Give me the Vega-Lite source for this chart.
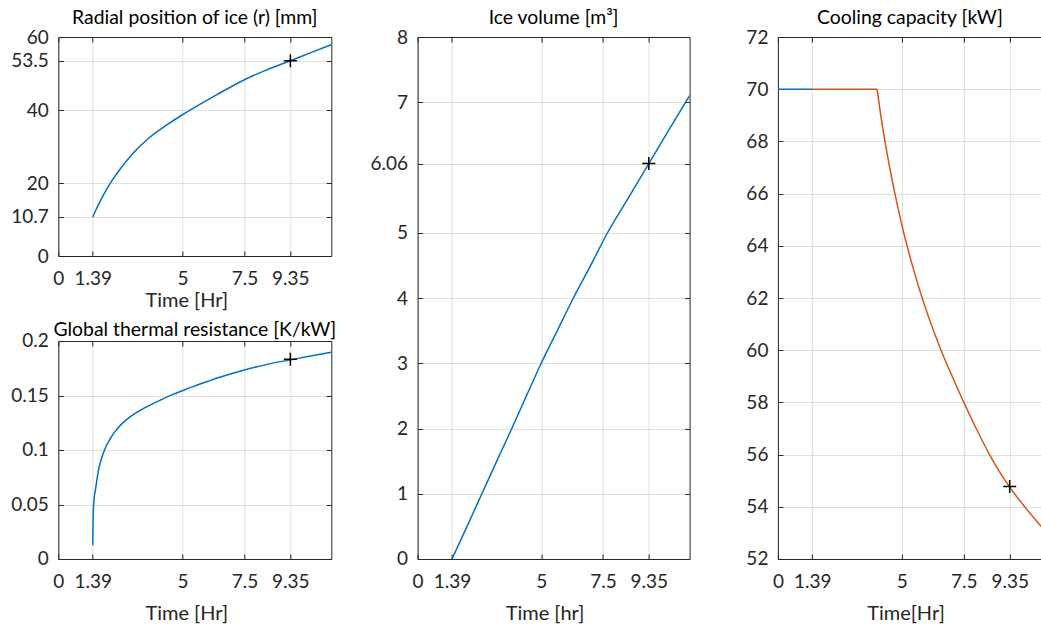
{
  "$schema": "https://vega.github.io/schema/vega-lite/v6.json",
  "padding": {"left": 8.3, "top": 7, "right": 0, "bottom": 0},
  "background": "white",
  "config": {
    "font": "Lato",
    "view": {"stroke": null},
    "axis": {
      "labelFont": "Lato", "labelFontSize": 19, "labelColor": "#262626",
      "titleFont": "Lato", "titleFontSize": 20, "titleFontWeight": "normal", "titleColor": "#262626",
      "domainColor": "#262626", "domainWidth": 1, "tickColor": "#262626", "tickWidth": 1,
      "gridColor": "#262626", "gridOpacity": 0.15, "gridWidth": 1,
      "labelFlush": false, "labelOverlap": false, "tickSize": -5
    },
    "title": {"font": "Lato", "fontSize": 19.4, "fontWeight": "normal", "color": "#000000", "frame": "group", "anchor": "middle"}
  },
  "datasets": {
    "r": [
      {"t": 1.39, "v": 10.7}, {"t": 1.5, "v": 12.4}, {"t": 1.68, "v": 14.9}, {"t": 1.9, "v": 17.7},
      {"t": 2.09, "v": 19.9}, {"t": 2.36, "v": 22.6}, {"t": 3.03, "v": 28.3}, {"t": 3.7, "v": 32.6},
      {"t": 4.37, "v": 35.9}, {"t": 5.0, "v": 38.7}, {"t": 5.72, "v": 41.6}, {"t": 6.39, "v": 44.2},
      {"t": 7.5, "v": 48.3}, {"t": 8.4, "v": 51.0}, {"t": 9.35, "v": 53.5}, {"t": 10.2, "v": 55.8},
      {"t": 11.0, "v": 57.9}
    ],
    "R": [
      {"t": 1.39, "v": 0.0125}, {"t": 1.392, "v": 0.02}, {"t": 1.395, "v": 0.027}, {"t": 1.4, "v": 0.035},
      {"t": 1.41, "v": 0.043}, {"t": 1.425, "v": 0.05}, {"t": 1.45, "v": 0.057}, {"t": 1.5, "v": 0.064},
      {"t": 1.6, "v": 0.0791}, {"t": 1.7, "v": 0.089}, {"t": 1.8, "v": 0.0963}, {"t": 1.9, "v": 0.102},
      {"t": 2.1, "v": 0.1107}, {"t": 2.3, "v": 0.1173}, {"t": 2.5, "v": 0.1226}, {"t": 2.8, "v": 0.1288},
      {"t": 3.16, "v": 0.1345}, {"t": 3.7, "v": 0.1412}, {"t": 4.2, "v": 0.1467}, {"t": 4.6, "v": 0.1508},
      {"t": 5.0, "v": 0.1544}, {"t": 5.5, "v": 0.1588}, {"t": 6.0, "v": 0.1628}, {"t": 6.5, "v": 0.1667},
      {"t": 7.0, "v": 0.1702}, {"t": 7.5, "v": 0.1734}, {"t": 8.0, "v": 0.1763}, {"t": 8.5, "v": 0.179},
      {"t": 9.0, "v": 0.1813}, {"t": 9.35, "v": 0.1826}, {"t": 10.0, "v": 0.1855}, {"t": 10.5, "v": 0.1876},
      {"t": 11.0, "v": 0.1896}
    ],
    "V": [
      {"t": 1.39, "v": 0}, {"t": 2.0, "v": 0.5}, {"t": 2.6, "v": 1.0}, {"t": 3.2, "v": 1.5},
      {"t": 3.81, "v": 2.0}, {"t": 4.4, "v": 2.5}, {"t": 5.0, "v": 3.0}, {"t": 5.65, "v": 3.5},
      {"t": 6.3, "v": 4.0}, {"t": 7.0, "v": 4.5}, {"t": 7.68, "v": 5.0}, {"t": 8.5, "v": 5.52},
      {"t": 9.35, "v": 6.06}, {"t": 10.2, "v": 6.6}, {"t": 11.0, "v": 7.1}
    ],
    "Q": [
      {"t": 0, "v": 70, "s": "a"}, {"t": 1.39, "v": 70, "s": "a"},
      {"t": 1.39, "v": 70, "s": "b"}, {"t": 4.0, "v": 70, "s": "b"},
      {"t": 4.0, "v": 70, "s": "c"}, {"t": 4.15, "v": 69.0, "s": "c"},
      {"t": 4.32, "v": 68.0, "s": "c"}, {"t": 4.51, "v": 67.0, "s": "c"}, {"t": 4.72, "v": 66.0, "s": "c"},
      {"t": 4.95, "v": 65.0, "s": "c"}, {"t": 5.21, "v": 64.0, "s": "c"}, {"t": 5.5, "v": 63.0, "s": "c"},
      {"t": 5.82, "v": 62.0, "s": "c"}, {"t": 6.18, "v": 61.0, "s": "c"}, {"t": 6.58, "v": 60.0, "s": "c"},
      {"t": 7.03, "v": 59.0, "s": "c"}, {"t": 7.5, "v": 58.0, "s": "c"}, {"t": 8.0, "v": 57.0, "s": "c"},
      {"t": 8.5, "v": 56.07, "s": "c"}, {"t": 9.0, "v": 55.25, "s": "c"}, {"t": 9.5, "v": 54.56, "s": "c"},
      {"t": 10.0, "v": 53.95, "s": "c"}, {"t": 10.5, "v": 53.38, "s": "c"}, {"t": 11.0, "v": 52.85, "s": "c"}
    ],
    "mA": [{"t": 9.35, "v": 53.5}],
    "mB": [{"t": 9.35, "v": 0.1832}],
    "mC": [{"t": 9.35, "v": 6.06}],
    "mD": [{"t": 9.35, "v": 54.78}]
  },
  "spacing": 31.3,
  "hconcat": [
    {
      "spacing": 85,
      "bounds": "flush",
      "vconcat": [
        {
          "width": 273, "height": 219,
          "title": {"text": "Radial position of ice (r) [mm]", "offset": 0},
          "resolve": {"axis": {"x": "independent", "y": "independent"}},
          "layer": [
            {
              "data": {"name": "r"},
              "mark": {"type": "line", "color": "#0072BD", "strokeWidth": 1.5, "clip": true, "interpolate": "monotone"},
              "encoding": {
                "x": {"field": "t", "type": "quantitative", "scale": {"domain": [0, 11], "nice": false, "zero": false},
                  "axis": {"values": [0, 1.39, 5, 7.5, 9.35], "labelExpr": "'' + datum.value", "title": "Time [Hr]", "grid": true, "labelPadding": 18.3, "titlePadding": 2, "titleX": 128}},
                "y": {"field": "v", "type": "quantitative", "scale": {"domain": [0, 60], "nice": false, "zero": false},
                  "axis": {"values": [0, 10.7, 20, 40, 53.5, 60], "labelExpr": "'' + datum.value", "title": null, "grid": true, "labelPadding": 15, "minExtent": 50, "maxExtent": 50}}
              }
            },
            {
              "data": {"name": "mA"},
              "mark": {"type": "point", "shape": "M-1,0L1,0M0,-1L0,1", "size": 169, "filled": false, "color": "#000000", "strokeWidth": 1.5, "opacity": 1},
              "encoding": {
                "x": {"field": "t", "type": "quantitative", "scale": {"domain": [0, 11], "nice": false, "zero": false},
                  "axis": {"orient": "top", "values": [0, 1.39, 5, 7.5, 9.35], "labels": false, "grid": false, "title": null, "minExtent": 0, "maxExtent": 0}},
                "y": {"field": "v", "type": "quantitative", "scale": {"domain": [0, 60], "nice": false, "zero": false},
                  "axis": {"orient": "right", "values": [0, 10.7, 20, 40, 53.5, 60], "labels": false, "grid": false, "title": null, "minExtent": 0, "maxExtent": 0}}
              }
            }
          ]
        },
        {
          "width": 273, "height": 218,
          "title": {"text": "Global thermal resistance [K/kW]", "offset": -8},
          "resolve": {"axis": {"x": "independent", "y": "independent"}},
          "layer": [
            {
              "data": {"name": "R"},
              "mark": {"type": "line", "color": "#0072BD", "strokeWidth": 1.5, "clip": true, "interpolate": "monotone"},
              "encoding": {
                "x": {"field": "t", "type": "quantitative", "scale": {"domain": [0, 11], "nice": false, "zero": false},
                  "axis": {"values": [0, 1.39, 5, 7.5, 9.35], "labelExpr": "'' + datum.value", "title": "Time [Hr]", "grid": true, "labelPadding": 18.3, "titlePadding": 12, "titleX": 128}},
                "y": {"field": "v", "type": "quantitative", "scale": {"domain": [0, 0.2], "nice": false, "zero": false},
                  "axis": {"values": [0, 0.05, 0.1, 0.15, 0.2], "labelExpr": "'' + datum.value", "title": null, "grid": true, "labelPadding": 15, "minExtent": 50, "maxExtent": 50}}
              }
            },
            {
              "data": {"name": "mB"},
              "mark": {"type": "point", "shape": "M-1,0L1,0M0,-1L0,1", "size": 169, "filled": false, "color": "#000000", "strokeWidth": 1.5, "opacity": 1},
              "encoding": {
                "x": {"field": "t", "type": "quantitative", "scale": {"domain": [0, 11], "nice": false, "zero": false},
                  "axis": {"orient": "top", "values": [0, 1.39, 5, 7.5, 9.35], "labels": false, "grid": false, "title": null, "minExtent": 0, "maxExtent": 0}},
                "y": {"field": "v", "type": "quantitative", "scale": {"domain": [0, 0.2], "nice": false, "zero": false},
                  "axis": {"orient": "right", "values": [0, 0.05, 0.1, 0.15, 0.2], "labels": false, "grid": false, "title": null, "minExtent": 0, "maxExtent": 0}}
              }
            }
          ]
        }
      ]
    },
    {
      "width": 272, "height": 522,
      "title": {"text": "Ice volume [m³]", "offset": 0},
      "resolve": {"axis": {"x": "independent", "y": "independent"}},
      "layer": [
        {
          "data": {"name": "V"},
          "mark": {"type": "line", "color": "#0072BD", "strokeWidth": 1.5, "clip": true, "interpolate": "monotone"},
          "encoding": {
            "x": {"field": "t", "type": "quantitative", "scale": {"domain": [0, 11], "nice": false, "zero": false},
              "axis": {"values": [0, 1.39, 5, 7.5, 9.35], "labelExpr": "'' + datum.value", "title": "Time [hr]", "grid": true, "labelPadding": 18.3, "titlePadding": 12, "titleX": 127}},
            "y": {"field": "v", "type": "quantitative", "scale": {"domain": [0, 8], "nice": false, "zero": false},
              "axis": {"values": [0, 1, 2, 3, 4, 5, 6.06, 7, 8], "labelExpr": "'' + datum.value", "title": null, "grid": true, "labelPadding": 15, "minExtent": 50, "maxExtent": 50}}
          }
        },
        {
          "data": {"name": "mC"},
          "mark": {"type": "point", "shape": "M-1,0L1,0M0,-1L0,1", "size": 169, "filled": false, "color": "#000000", "strokeWidth": 1.5, "opacity": 1},
          "encoding": {
            "x": {"field": "t", "type": "quantitative", "scale": {"domain": [0, 11], "nice": false, "zero": false},
              "axis": {"orient": "top", "values": [0, 1.39, 5, 7.5, 9.35], "labels": false, "grid": false, "title": null, "minExtent": 0, "maxExtent": 0}},
            "y": {"field": "v", "type": "quantitative", "scale": {"domain": [0, 8], "nice": false, "zero": false},
              "axis": {"orient": "right", "values": [0, 1, 2, 3, 4, 5, 6.06, 7, 8], "labels": false, "grid": false, "title": null, "minExtent": 0, "maxExtent": 0}}
          }
        }
      ]
    },
    {
      "width": 264, "height": 522,
      "title": {"text": "Cooling capacity [kW]", "offset": 0},
      "resolve": {"axis": {"x": "independent", "y": "independent"}},
      "layer": [
        {
          "data": {"name": "Q"},
          "mark": {"type": "line", "strokeWidth": 1.5, "clip": true, "interpolate": "monotone"},
          "encoding": {
            "x": {"field": "t", "type": "quantitative", "scale": {"domain": [0, 10.65], "nice": false, "zero": false},
              "axis": {"values": [0, 1.39, 5, 7.5, 9.35], "labelExpr": "'' + datum.value", "title": "Time[Hr]", "grid": true, "labelPadding": 18.3, "titlePadding": 12, "titleX": 127.6}},
            "y": {"field": "v", "type": "quantitative", "scale": {"domain": [52, 72], "nice": false, "zero": false},
              "axis": {"values": [52, 54, 56, 58, 60, 62, 64, 66, 68, 70, 72], "labelExpr": "'' + datum.value", "title": null, "grid": true, "labelPadding": 15, "minExtent": 55.1, "maxExtent": 55.1}},
            "color": {"field": "s", "type": "nominal", "scale": {"domain": ["a", "b", "c"], "range": ["#0072BD", "#D95319", "#D95319"]}, "legend": null}
          }
        },
        {
          "data": {"name": "mD"},
          "mark": {"type": "point", "shape": "M-1,0L1,0M0,-1L0,1", "size": 169, "filled": false, "color": "#000000", "strokeWidth": 1.5, "opacity": 1},
          "encoding": {
            "x": {"field": "t", "type": "quantitative", "scale": {"domain": [0, 10.65], "nice": false, "zero": false},
              "axis": {"orient": "top", "values": [0, 1.39, 5, 7.5, 9.35], "labels": false, "grid": false, "title": null, "minExtent": 0, "maxExtent": 0}},
            "y": {"field": "v", "type": "quantitative", "scale": {"domain": [52, 72], "nice": false, "zero": false}, "axis": null}
          }
        }
      ]
    }
  ]
}
